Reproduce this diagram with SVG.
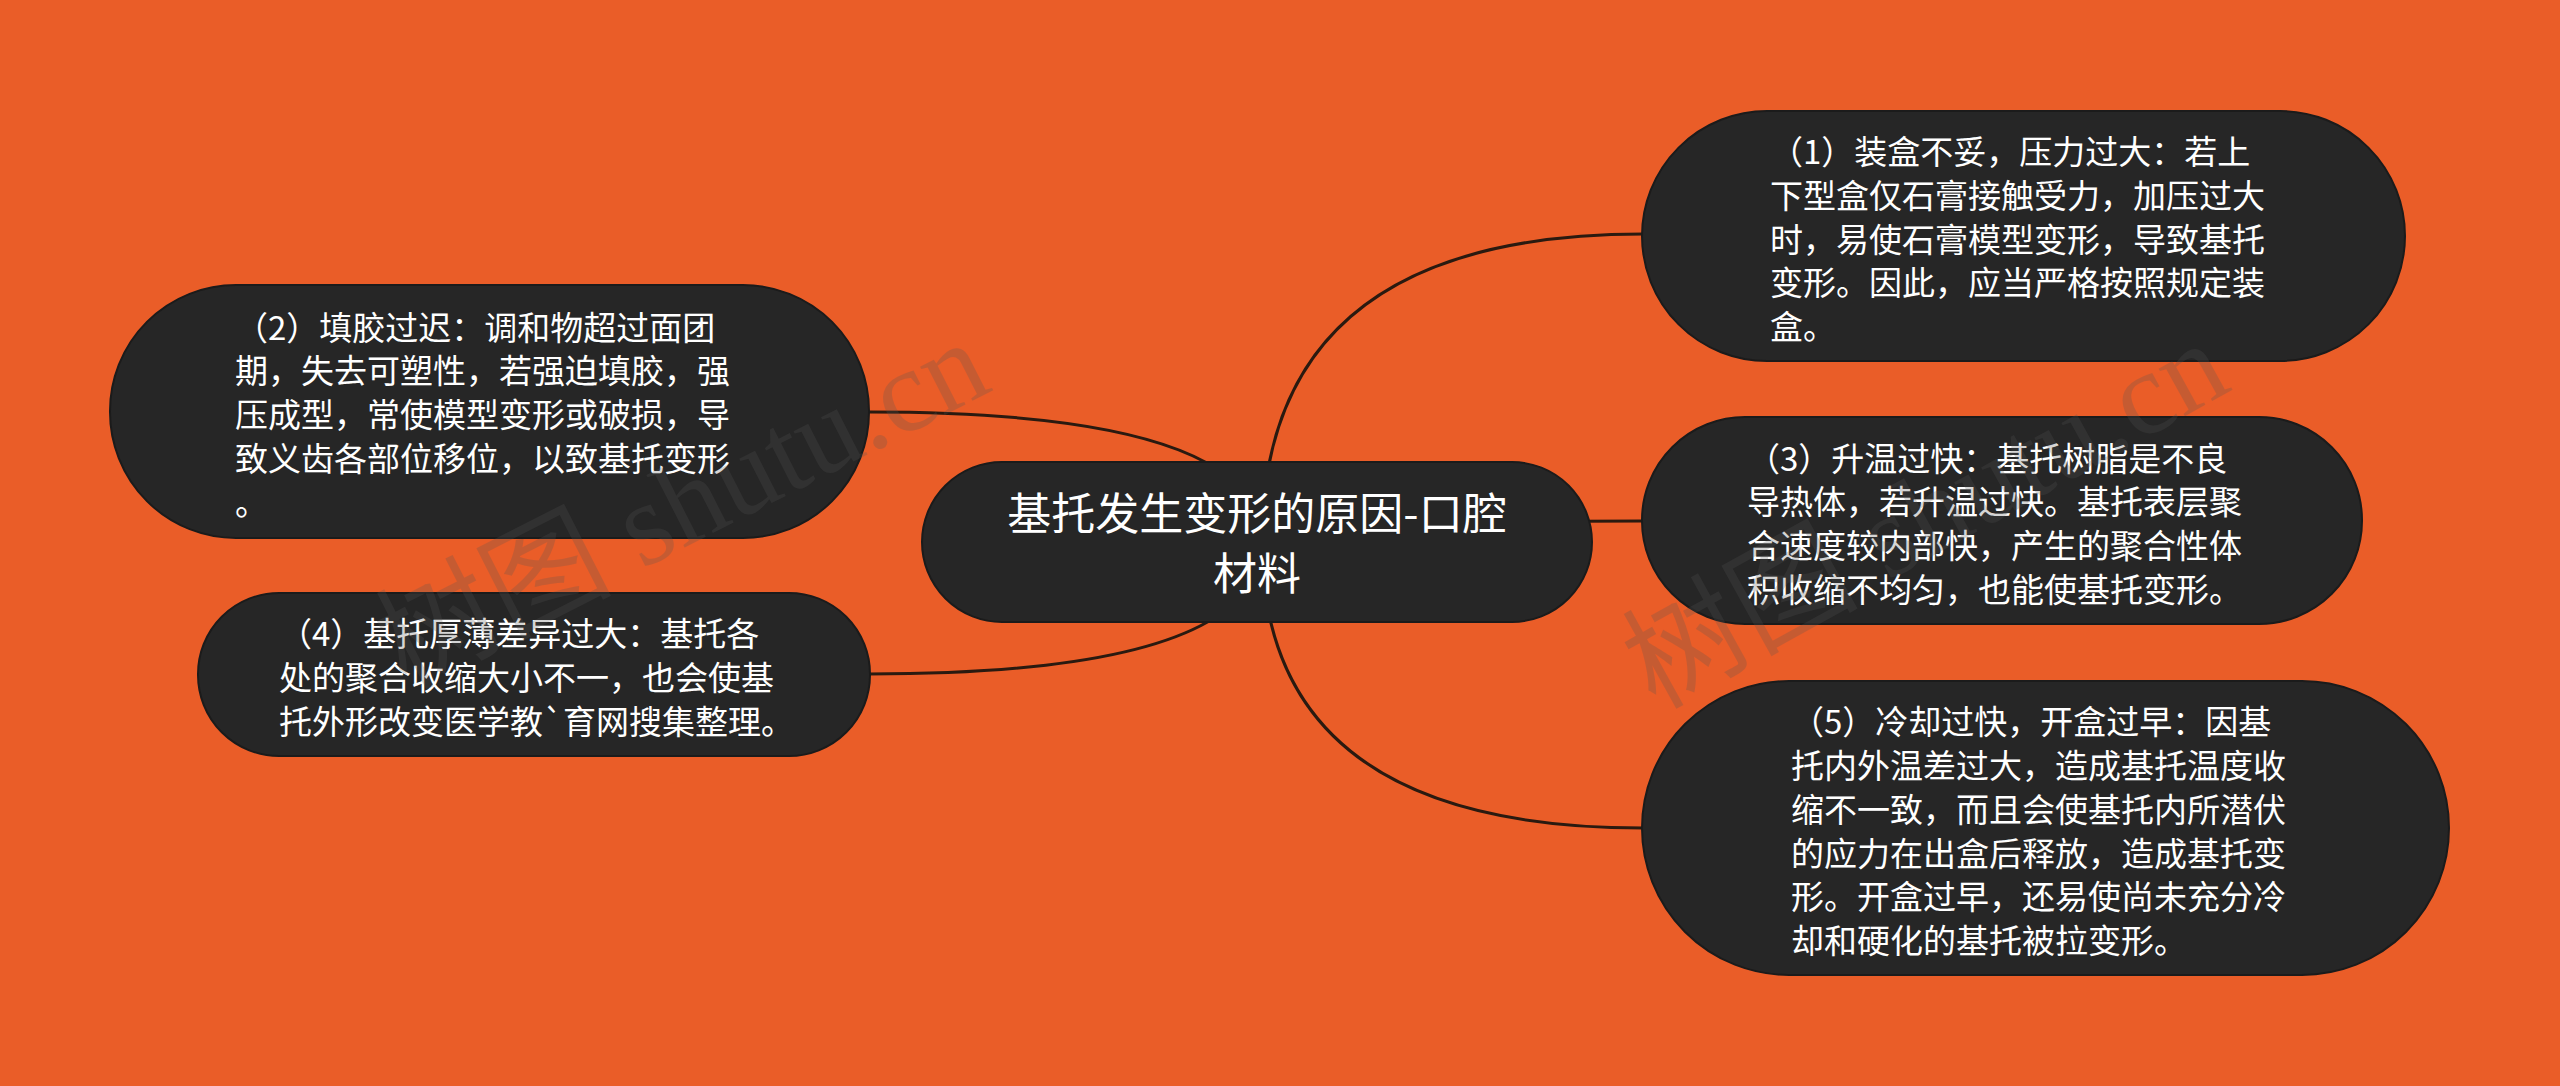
<svg xmlns="http://www.w3.org/2000/svg" width="2560" height="1086" viewBox="0 0 2560 1086">
<style>
.bg{fill:#EA5D28}
.node{fill:#262626;stroke:#1b1b1b;stroke-width:2}
.t{font-family:"Noto Sans CJK SC","Noto Sans",sans-serif;fill:#ffffff;font-size:33px}
.tc{font-family:"Noto Sans CJK SC","Noto Sans",sans-serif;fill:#ffffff;font-size:44px;text-anchor:middle}
.edge{fill:none;stroke:#2a1a10;stroke-width:3}
.wm{font-family:"Liberation Serif","Noto Sans CJK SC",serif;font-size:118px;fill:#555555;opacity:0.24}
</style>
<rect class="bg" x="0" y="0" width="2560" height="1086"/>
<g id="connectors">
<path class="edge" d="M1262 542 Q1262 234 1643 234"/>
<path class="edge" d="M1262 542 Q1262 521 1642 521"/>
<path class="edge" d="M1262 542 Q1262 828 1643 828"/>
<path class="edge" d="M1262 542 Q1262 412 869 412"/>
<path class="edge" d="M1262 542 Q1262 674 869 674"/>
</g>
<g id="root">
<rect class="node" x="922" y="462" width="670" height="160" rx="80"/>
<text class="tc" x="1257" y="530">基托发生变形的原因-口腔</text>
<text class="tc" x="1257" y="590">材料</text>
</g>
<g id="n1">
<rect class="node" x="1642" y="111" width="763" height="250" rx="125"/>
<text class="t" x="1770" y="164">（1）装盒不妥，压力过大：若上</text>
<text class="t" x="1770" y="208">下型盒仅石膏接触受力，加压过大</text>
<text class="t" x="1770" y="251.5">时，易使石膏模型变形，导致基托</text>
<text class="t" x="1770" y="295">变形。因此，应当严格按照规定装</text>
<text class="t" x="1770" y="339">盒。</text>
</g>
<g id="n2">
<rect class="node" x="110" y="285" width="759" height="253" rx="126"/>
<text class="t" x="235" y="339.5">（2）填胶过迟：调和物超过面团</text>
<text class="t" x="235" y="383">期，失去可塑性，若强迫填胶，强</text>
<text class="t" x="235" y="427">压成型，常使模型变形或破损，导</text>
<text class="t" x="235" y="470.5">致义齿各部位移位，以致基托变形</text>
<text class="t" x="235" y="514.5">。</text>
</g>
<g id="n3">
<rect class="node" x="1642" y="417" width="720" height="207" rx="103"/>
<text class="t" x="1747" y="470.5">（3）升温过快：基托树脂是不良</text>
<text class="t" x="1747" y="514">导热体，若升温过快。基托表层聚</text>
<text class="t" x="1747" y="558">合速度较内部快，产生的聚合性体</text>
<text class="t" x="1747" y="601.5">积收缩不均匀，也能使基托变形。</text>
</g>
<g id="n4">
<rect class="node" x="198" y="593" width="672" height="163" rx="81"/>
<text class="t" x="279" y="646">（4）基托厚薄差异过大：基托各</text>
<text class="t" x="279" y="690">处的聚合收缩大小不一，也会使基</text>
<text class="t" x="279" y="734">托外形改变医学教`育网搜集整理。</text>
</g>
<g id="n5">
<rect class="node" x="1642" y="681" width="807" height="294" rx="147"/>
<text class="t" x="1791" y="734">（5）冷却过快，开盒过早：因基</text>
<text class="t" x="1791" y="778">托内外温差过大，造成基托温度收</text>
<text class="t" x="1791" y="822">缩不一致，而且会使基托内所潜伏</text>
<text class="t" x="1791" y="865.5">的应力在出盒后释放，造成基托变</text>
<text class="t" x="1791" y="909">形。开盒过早，还易使尚未充分冷</text>
<text class="t" x="1791" y="953">却和硬化的基托被拉变形。</text>
</g>
<g id="watermarks">
<text class="wm" transform="translate(405 690) rotate(-27)">树图 shutu.cn</text>
<text class="wm" transform="translate(1655 710) rotate(-29)">树图 shutu.cn</text>
</g>
</svg>
